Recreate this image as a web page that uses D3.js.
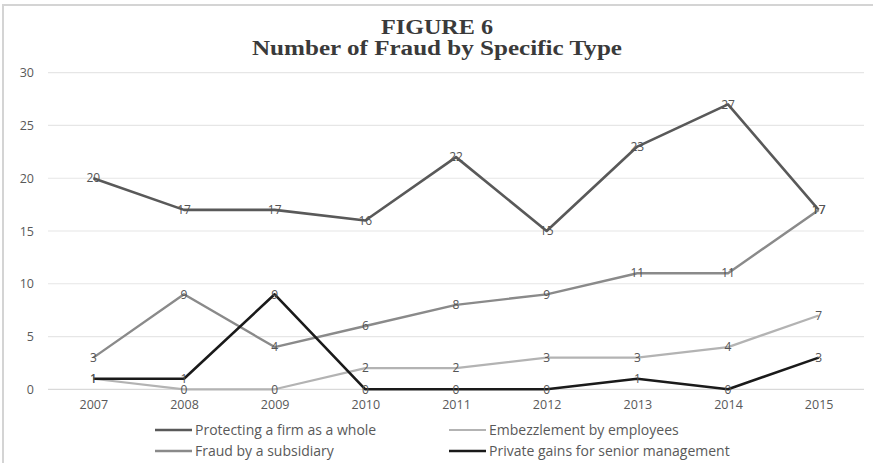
<!DOCTYPE html>
<html>
<head>
<meta charset="utf-8">
<script src="https://cdn.jsdelivr.net/npm/d3@7"></script>
<style>
  html, body { margin: 0; padding: 0; background: #fff; }
  svg { display: block; }
</style>
</head>
<body>
<svg id="chart" width="873" height="463"></svg>
<script>
// Years on the x axis
const years = ["2007", "2008", "2009", "2010", "2011", "2012", "2013", "2014", "2015"];

// Series values (number of fraud cases per year)
const protectingFirm = [20, 17, 17, 16, 22, 15, 23, 27, 17];
const embezzlement   = [1, 0, 0, 2, 2, 3, 3, 4, 7];
const subsidiary     = [3, 9, 4, 6, 8, 9, 11, 11, 17];
const privateGains   = [1, 1, 9, 0, 0, 0, 1, 0, 3];

// Y axis ticks
const yTicks = [0, 5, 10, 15, 20, 25, 30];

const seriesNames = [
  "Protecting a firm as a whole",
  "Embezzlement by employees",
  "Fraud by a subsidiary",
  "Private gains for senior management"
];
const seriesColors = ["#595959", "#b3b3b3", "#8a8a8a", "#1a1a1a"];
const seriesWidths = [2.6, 2.2, 2.4, 2.6];

const series = [protectingFirm, embezzlement, subsidiary, privateGains].map((vals, i) => ({
  name: seriesNames[i],
  color: seriesColors[i],
  width: seriesWidths[i],
  values: vals.map((v, j) => ({ year: years[j], value: v }))
}));

const svg = d3.select("#chart");
const W = 873, H = 463;
const sans = "'Open Sans', 'Liberation Sans', sans-serif";

// Outer frame (top and left edges)
svg.append("path")
  .attr("d", `M3,${H} L3,5 L${W},5`)
  .attr("fill", "none")
  .attr("stroke", "#d4d4d4")
  .attr("stroke-width", 2);

const plotLeft = 48, plotRight = 864, plotTop = 72.7, plotBottom = 389.3;

const x = d3.scalePoint().domain(years).range([plotLeft, plotRight]).padding(0.5);
const y = d3.scaleLinear().domain([0, 30]).range([plotBottom, plotTop]);

// Title (wide bold serif)
const title = svg.append("g")
  .attr("font-family", "'Liberation Serif', 'Times New Roman', serif")
  .attr("font-weight", "bold")
  .attr("fill", "#3a3a3a")
  .attr("text-anchor", "middle");
title.append("text").attr("x", 437).attr("y", 34).attr("font-size", 20)
  .attr("textLength", 112).attr("lengthAdjust", "spacingAndGlyphs").text("FIGURE 6");
title.append("text").attr("x", 437).attr("y", 55).attr("font-size", 20)
  .attr("textLength", 370).attr("lengthAdjust", "spacingAndGlyphs").text("Number of Fraud by Specific Type");

// Horizontal gridlines
svg.append("g")
  .selectAll("line")
  .data(yTicks)
  .join("line")
  .attr("x1", plotLeft).attr("x2", plotRight)
  .attr("y1", d => y(d)).attr("y2", d => y(d))
  .attr("stroke", d => d === 0 ? "#d9d9d9" : "#e6e6e6")
  .attr("stroke-width", 1.2);

// Y axis labels
const yAxis = svg.append("g")
  .attr("transform", `translate(${plotLeft},0)`)
  .call(d3.axisLeft(y).tickValues(yTicks).tickSize(0).tickPadding(14));
yAxis.select(".domain").remove();
yAxis.selectAll("text")
  .attr("font-family", sans)
  .attr("font-size", 12.5)
  .attr("fill", "#595959");

// X axis labels
const xAxis = svg.append("g")
  .attr("transform", `translate(0,${plotBottom})`)
  .call(d3.axisBottom(x).tickSize(0).tickPadding(11));
xAxis.select(".domain").remove();
xAxis.selectAll("text")
  .attr("font-family", sans)
  .attr("font-size", 12.5)
  .attr("fill", "#595959");

// Lines
const line = d3.line().x(d => x(d.year)).y(d => y(d.value));
svg.append("g")
  .selectAll("path")
  .data(series)
  .join("path")
  .attr("d", d => line(d.values))
  .attr("fill", "none")
  .attr("stroke", d => d.color)
  .attr("stroke-width", d => d.width)
  .attr("stroke-linejoin", "round");

// Data labels centred on each point
svg.append("g")
  .selectAll("g")
  .data(series)
  .join("g")
  .selectAll("text")
  .data(d => d.values)
  .join("text")
  .attr("x", d => x(d.year))
  .attr("y", d => y(d.value))
  .attr("dy", "0.35em")
  .attr("text-anchor", "middle")
  .attr("font-family", sans)
  .attr("font-size", 12)
  .attr("fill", "#555555")
  .text(d => d.value);

// Legend: two rows of two entries
const legendPos = [
  { lx: 155, ly: 430 },
  { lx: 449, ly: 430 },
  { lx: 155, ly: 451 },
  { lx: 449, ly: 451 }
];
const legend = svg.append("g")
  .selectAll("g")
  .data(series)
  .join("g")
  .attr("transform", (d, i) => `translate(${legendPos[i].lx},${legendPos[i].ly})`);
legend.append("line")
  .attr("x1", 0).attr("x2", 37)
  .attr("y1", 0).attr("y2", 0)
  .attr("stroke", d => d.color)
  .attr("stroke-width", d => d.width);
legend.append("text")
  .attr("x", 40)
  .attr("y", 0)
  .attr("dy", "0.35em")
  .attr("font-family", sans)
  .attr("font-size", 14)
  .attr("fill", "#595959")
  .text(d => d.name);
</script>
</body>
</html>
